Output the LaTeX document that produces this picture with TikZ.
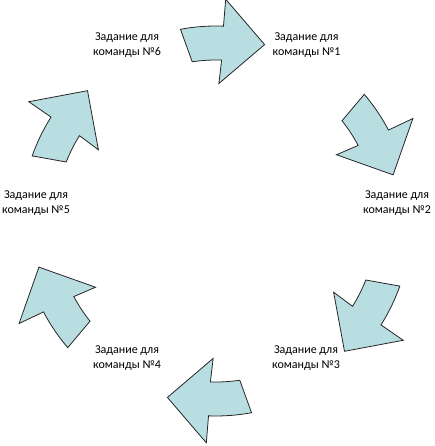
\documentclass[tikz,border=0pt]{standalone}
\usepackage{fontspec}
\setmainfont{Carlito}
\definecolor{arrowfill}{RGB}{185,222,226}
\begin{document}
\begin{tikzpicture}[x=1pt,y=1pt,
  cycarrow/.style={fill=arrowfill,draw=black!85,line width=0.8pt,line join=miter},
  lbl/.style={font=\fontsize{12}{15}\selectfont,align=center,inner sep=0pt}]
\useasboundingbox (0,0) rectangle (434,446);
\foreach \k in {1,...,6}{
  \begin{scope}[shift={(216,225)},rotate={60*(2-\k)}]
    \draw[cycarrow] (40.5:195) arc[start angle=40.5,end angle=27.8,radius=195]
      -- (27.5:222) -- (14.6:183) -- (28.8:137.5) -- (28:161)
      arc[start angle=28,end angle=38.5,radius=161] -- cycle;
  \end{scope}
}
\node[lbl] (t1) at (306.5,401) {Задание для\\команды №1};
\node[lbl] (t2) at (397,243) {Задание для\\команды №2};
\node[lbl] (t3) at (306,88) {Задание для\\команды №3};
\node[lbl] (t4) at (127,88) {Задание для\\команды №4};
\node[lbl] (t5) at (36,243) {Задание для\\команды №5};
\node[lbl] (t6) at (127,401) {Задание для\\команды №6};
\end{tikzpicture}
\end{document}
